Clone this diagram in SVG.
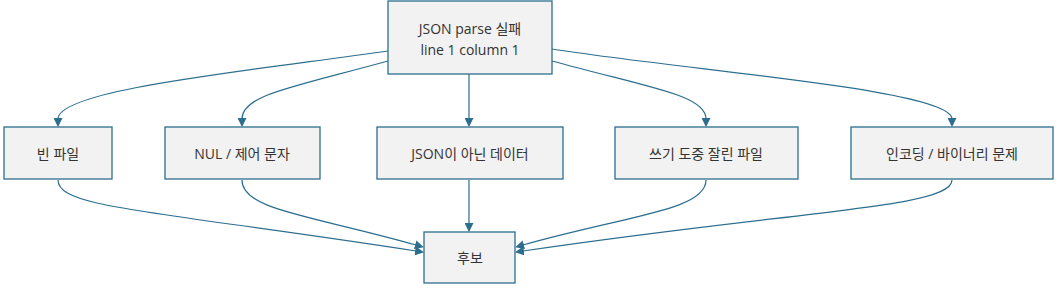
<svg xmlns="http://www.w3.org/2000/svg" width="1059" height="292" viewBox="0 0 1059 292">
<style>
.node rect{fill:#f2f2f2;stroke:#2c6e8f;stroke-width:1.3}
.node text{font-family:"Segoe UI","Open Sans","Noto Sans CJK KR",sans-serif;font-size:14px;fill:#333;text-anchor:middle;dominant-baseline:central}
.edges path{fill:none;stroke:#2c6e8f;stroke-width:1.2}
</style>
<defs>
<marker id="arr" viewBox="0 0 10 10" refX="1" refY="5" markerWidth="9" markerHeight="9" markerUnits="userSpaceOnUse" orient="auto">
<path d="M0,0 L10,5 L0,10 z" fill="#2c6e8f"/>
</marker>
</defs>
<rect width="1059" height="292" fill="#fff"/>
<g class="edges">
<path d="M388,51 C240,72 58,90 58,119" marker-end="url(#arr)"/>
<path d="M388,61 C290,88 242,95 242,119" marker-end="url(#arr)"/>
<path d="M469,74 L469,119" marker-end="url(#arr)"/>
<path d="M552,61 C650,88 706,95 706,119" marker-end="url(#arr)"/>
<path d="M552,49 C700,72 952,90 952,119" marker-end="url(#arr)"/>
<path d="M58,180 C58,208 150,210 416,251" marker-end="url(#arr)"/>
<path d="M242,180 C242,210 310,215 416,245" marker-end="url(#arr)"/>
<path d="M469,180 L469,224" marker-end="url(#arr)"/>
<path d="M706,180 C706,210 630,215 523,245" marker-end="url(#arr)"/>
<path d="M952,180 C952,208 800,210 523,251" marker-end="url(#arr)"/>
</g>
<g id="top" class="node"><rect x="388" y="1" width="164" height="73"/><text x="470" y="28">JSON parse 실패</text><text x="470" y="49">line 1 column 1</text></g>
<g id="n1" class="node"><rect x="4" y="127" width="108" height="52"/><text x="58" y="153">빈 파일</text></g>
<g id="n2" class="node"><rect x="165" y="127" width="155" height="52"/><text x="242" y="153">NUL / 제어 문자</text></g>
<g id="n3" class="node"><rect x="377" y="127" width="186" height="52"/><text x="470" y="153">JSON이 아닌 데이터</text></g>
<g id="n4" class="node"><rect x="615" y="127" width="183" height="52"/><text x="706" y="153">쓰기 도중 잘린 파일</text></g>
<g id="n5" class="node"><rect x="851" y="127" width="202" height="52"/><text x="952" y="153">인코딩 / 바이너리 문제</text></g>
<g id="bottom" class="node"><rect x="424" y="232" width="91" height="51"/><text x="470" y="257">후보</text></g>
</svg>
